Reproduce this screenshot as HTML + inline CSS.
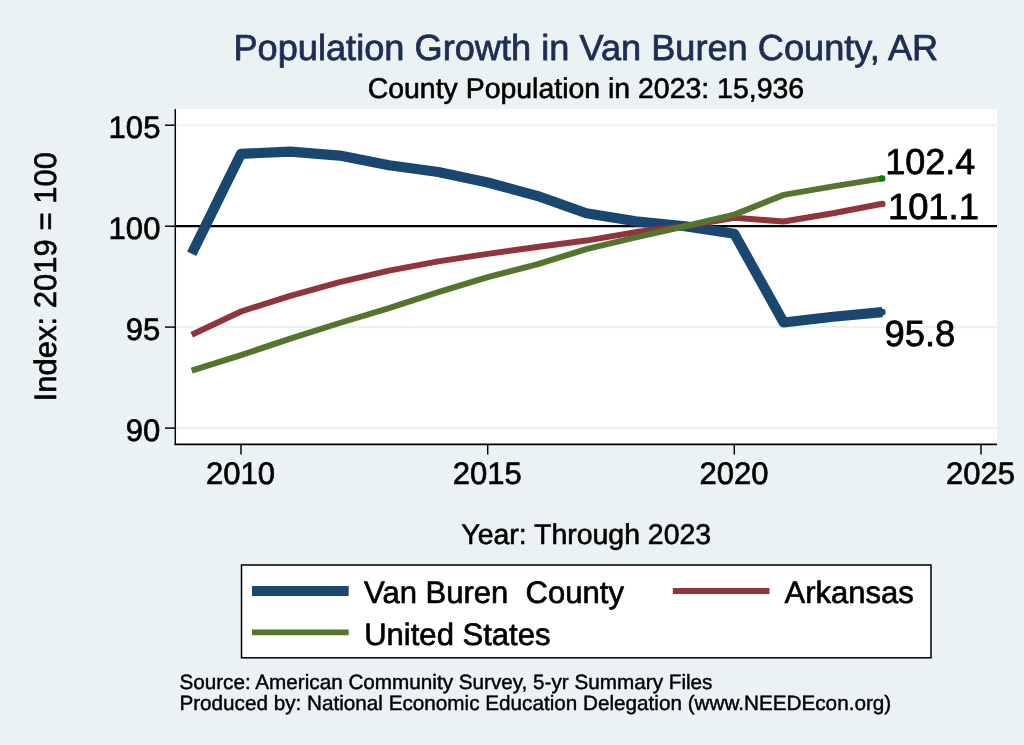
<!DOCTYPE html>
<html lang="en">
<head>
<meta charset="utf-8">
<title>Population Growth in Van Buren County, AR</title>
<style>
  html, body { margin: 0; padding: 0; background: #eaf2f3; }
  body { width: 1024px; height: 745px; overflow: hidden; }
  svg { display: block; will-change: transform; }
  text { font-family: "Liberation Sans", sans-serif; fill: #000; stroke: #000; stroke-width: 0.021em; stroke-linejoin: round; text-rendering: geometricPrecision; }
</style>
</head>
<body>
<svg width="1024" height="745" viewBox="0 0 1024 745">
  <!-- background -->
  <rect x="0" y="0" width="1024" height="745" fill="#eaf2f3"/>

  <!-- titles -->
  <text x="585.8" y="59.6" text-anchor="middle" font-size="36.2" style="fill:#1e2d53;stroke:#1e2d53">Population Growth in Van Buren County, AR</text>
  <text x="585.9" y="98.1" text-anchor="middle" font-size="28.45">County Population in 2023: 15,936</text>

  <!-- plot region -->
  <rect x="176" y="109" width="821" height="335" fill="#ffffff"/>

  <!-- grid lines -->
  <g stroke="#eaf2f3" stroke-width="2.1">
    <line x1="176" y1="125.2" x2="997" y2="125.2"/>
    <line x1="176" y1="226.2" x2="997" y2="226.2"/>
    <line x1="176" y1="327.1" x2="997" y2="327.1"/>
    <line x1="176" y1="428.1" x2="997" y2="428.1"/>
  </g>

  <!-- reference line at 100 -->
  <line x1="176" y1="226.2" x2="997" y2="226.2" stroke="#000" stroke-width="2.3"/>

  <!-- series -->
  <g fill="none" stroke-linejoin="round" stroke-linecap="butt">
    <polyline stroke="#1a476f" stroke-width="10.2"
      points="191.7,253.7 241,153.8 290.3,151.7 339.7,155.6 389,165.3 438.3,172 487.7,182.5 537,195.8 586.3,213.3 635.7,221.3 685,226.2 734.3,233.8 783.7,322.5 833,316.8 882.3,312.1"/>
    <polyline stroke="#90353b" stroke-width="6"
      points="191.7,334.7 241.0,311.5 290.3,295.8 339.7,282.1 389.0,270.6 438.3,261.4 487.7,253.9 537.0,247.0 586.3,240.6 635.7,232.1 685.0,226.2 734.3,217.8 783.7,221.5 833.0,213.2 882.3,203.8"/>
    <polyline stroke="#55752f" stroke-width="6"
      points="191.7,370.7 241.0,355.1 290.3,338.7 339.7,323.0 389.0,308.1 438.3,292.1 487.7,277.1 537.0,264.4 586.3,249.2 635.7,237.4 685.0,226.2 734.3,214.6 783.7,194.9 833.0,186.4 882.3,178.4"/>
  </g>
  <!-- end markers -->
  <circle cx="882.3" cy="312.1" r="3.4" fill="#1a476f"/>
  <circle cx="882.3" cy="203.9" r="3.2" fill="#90353b"/>
  <circle cx="882.1" cy="178.5" r="3.3" fill="#008000"/>

  <!-- marker labels -->
  <text x="885.2" y="174.4" font-size="36">102.4</text>
  <text x="887.9" y="219.4" font-size="36.4">101.1</text>
  <text x="884.5" y="345.7" font-size="36.4">95.8</text>

  <!-- axes -->
  <g stroke="#000" stroke-width="1.45" fill="none">
    <line x1="175.3" y1="108.9" x2="175.3" y2="444.8"/>
    <line x1="174.5" y1="444.3" x2="997" y2="444.3" stroke-width="1.7"/>
    <!-- y ticks -->
    <line x1="165" y1="125.2" x2="175.3" y2="125.2"/>
    <line x1="165" y1="226.2" x2="175.3" y2="226.2"/>
    <line x1="165" y1="327.1" x2="175.3" y2="327.1"/>
    <line x1="165" y1="428.1" x2="175.3" y2="428.1"/>
    <!-- x ticks -->
    <line x1="241" y1="444.1" x2="241" y2="454.6"/>
    <line x1="487.7" y1="444.1" x2="487.7" y2="454.6"/>
    <line x1="734.3" y1="444.1" x2="734.3" y2="454.6"/>
    <line x1="981" y1="444.1" x2="981" y2="454.6"/>
  </g>

  <!-- y tick labels -->
  <g font-size="31.04" text-anchor="end">
    <text x="160.4" y="137.7">105</text>
    <text x="160.4" y="238.7">100</text>
    <text x="160.4" y="339.6">95</text>
    <text x="160.4" y="440.6">90</text>
  </g>
  <!-- x tick labels -->
  <g font-size="31.04" text-anchor="middle">
    <text x="240.6" y="484.4">2010</text>
    <text x="487.3" y="484.4">2015</text>
    <text x="733.9" y="484.4">2020</text>
    <text x="980.5" y="484.4">2025</text>
  </g>

  <!-- axis titles -->
  <text transform="translate(56.2,276.7) rotate(-90)" text-anchor="middle" font-size="31.04">Index: 2019 = 100</text>
  <text x="586.2" y="544" text-anchor="middle" font-size="28.45">Year: Through 2023</text>

  <!-- legend -->
  <rect x="241.5" y="565" width="689.5" height="92.8" fill="#ffffff" stroke="#000" stroke-width="1.5"/>
  <line x1="252" y1="591" x2="348.7" y2="591" stroke="#1a476f" stroke-width="10.2"/>
  <text x="364" y="603" font-size="31.04" xml:space="preserve" style="white-space:pre">Van Buren  County</text>
  <line x1="672.8" y1="591" x2="769.5" y2="591" stroke="#90353b" stroke-width="5.9"/>
  <text x="784.5" y="603" font-size="31.04">Arkansas</text>
  <line x1="252" y1="632.4" x2="348.7" y2="632.4" stroke="#55752f" stroke-width="5.8"/>
  <text x="364.2" y="644.5" font-size="31.04">United States</text>

  <!-- notes -->
  <text x="179.4" y="688.5" font-size="20.69">Source: American Community Survey, 5-yr Summary Files</text>
  <text x="179.4" y="709.7" font-size="20.69">Produced by: National Economic Education Delegation (www.NEEDEcon.org)</text>
</svg>
</body>
</html>
